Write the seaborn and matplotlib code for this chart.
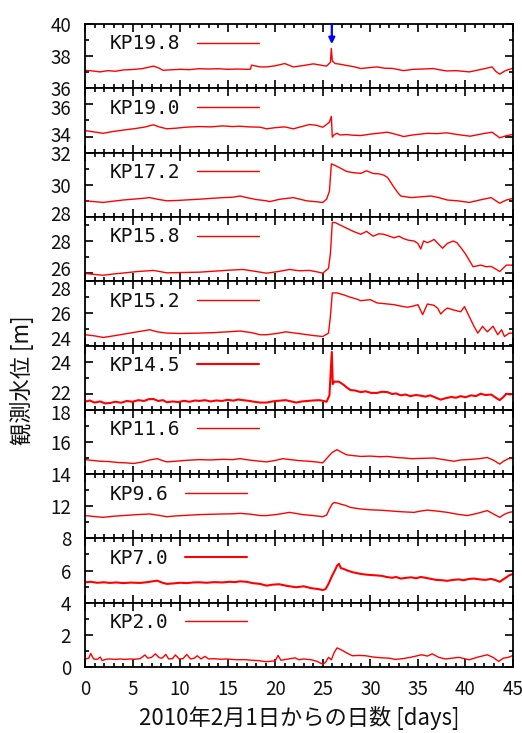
import numpy as np
import pandas as pd
import matplotlib
matplotlib.use("Agg")
import matplotlib.pyplot as plt
from matplotlib.ticker import MultipleLocator, FixedLocator
from matplotlib.transforms import ScaledTranslation
import seaborn as sns

# ---------------- data ----------------
stations = ["KP19.8", "KP19.0", "KP17.2", "KP15.8", "KP15.2",
            "KP14.5", "KP11.6", "KP9.6", "KP7.0", "KP2.0"]

kp19_8 = [(0,37.12),(0.8,37.08),(1.6,37.02),(2.4,37.1),(3.2,37.06),(4,37.14),(5,37.17),(6,37.22),(6.6,37.3),
          (7.2,37.38),(7.8,37.25),(8.2,37.12),(9,37.15),(10,37.18),(11,37.16),(12,37.22),(13,37.2),(14,37.22),
          (15,37.18),(16,37.2),(17,37.18),(17.4,37.19),(17.5,37.44),(18,37.38),(18.4,37.33),(19.1,37.33),
          (20,37.4),(21,37.54),(21.9,37.33),(22.5,37.38),(23,37.42),(24,37.52),(24.7,37.45),(25.4,37.38),
          (25.8,37.62),(25.9,38.48),(26.0,37.7),(26.3,37.54),(26.8,37.5),(27.5,37.42),(28.2,37.35),(29,37.23),
          (29.8,37.28),(30.7,37.33),(31.5,37.25),(32.3,37.24),(33.5,37.1),(34.5,37.18),(35.5,37.2),(36.6,37.23),
          (37.3,37.15),(38,37.08),(39,37.1),(40.4,37.02),(41.2,37.12),(42,37.22),(42.8,37.33),(43.2,37.05),
          (43.6,36.88),(44.2,37.1),(44.9,37.23)]
kp19_0 = [(0,34.37),(0.8,34.3),(1.9,34.2),(2.8,34.3),(4,34.4),(5.1,34.48),(6.2,34.58),(7.2,34.73),(7.8,34.6),
          (8.6,34.48),(9.6,34.52),(10.6,34.58),(12,34.62),(13.2,34.6),(14.5,34.66),(15.5,34.62),(16.3,34.64),
          (17.2,34.6),(18.4,34.58),(19.1,34.48),(20,34.55),(21,34.6),(21.9,34.48),(22.8,34.62),(23.6,34.75),
          (24.3,34.7),(25,34.58),(25.4,34.75),(25.7,34.9),(25.9,35.25),(26.0,33.96),(26.2,34.12),(26.5,34.2),
          (26.8,34.1),(27.5,34.12),(28.2,34.08),(29,34.06),(30,34.15),(30.8,34.2),(31.8,34.27),(32.6,34.15),
          (33.5,34.0),(34.5,34.1),(36,34.2),(37,34.18),(38,34.23),(39.2,34.12),(40.5,34.02),(41.6,34.15),
          (42.8,34.27),(43.6,33.92),(44.3,34.05),(45,34.13)]
kp17_2 = [(0,29.0),(1,28.95),(1.9,28.9),(3,28.98),(4,29.05),(5,29.1),(6,29.15),(6.8,29.2),(7.6,29.1),(8.6,29.0),
          (9.6,29.02),(10.8,29.06),(12,29.1),(13.2,29.15),(14.5,29.2),(15.5,29.22),(16.3,29.3),(17,29.2),
          (18,29.08),(19.1,29.0),(19.4,28.95),(20.5,29.1),(21.9,29.2),(22.6,29.1),(23.3,29.0),(24.2,28.95),
          (25,28.9),(25.4,29.1),(25.7,29.6),(25.9,31.3),(26.3,31.2),(26.8,31.05),(27.5,30.83),(28.2,30.75),
          (29,30.71),(29.6,30.87),(30.3,30.7),(30.9,30.68),(31.4,30.6),(31.8,30.46),(32.2,30.1),(32.5,29.83),
          (32.9,29.5),(33.2,29.3),(34.3,29.2),(35.3,29.25),(36.4,29.3),(37.2,29.2),(38.1,29.05),(39.2,29.0),
          (40.4,28.9),(41.5,29.05),(42.7,29.2),(43.6,28.85),(44.3,29.05),(45,29.15)]
kp15_8 = [(0,25.98),(1,25.92),(1.9,25.87),(3,25.95),(4.2,26.02),(5.5,26.1),(7.2,26.17),(8.6,26.02),(10,26.04),
          (12,26.06),(13.5,26.12),(15,26.18),(16.6,26.23),(17.8,26.12),(19.1,26.0),(20.3,26.1),(21.5,26.23),
          (22.5,26.15),(23.6,26.17),(24.4,26.08),(25,26.0),(25.6,26.3),(25.8,27.2),(26.0,29.15),(26.3,29.15),
          (26.8,29.0),(27.5,28.8),(28.2,28.6),(29,28.42),(29.6,28.6),(30.3,28.3),(30.9,28.45),(31.4,28.42),
          (32,28.3),(32.5,28.2),(33,28.3),(33.5,28.15),(34,28.05),(34.6,28.0),(35.0,27.85),(35.3,27.5),
          (35.6,28.0),(36,27.9),(36.4,28.0),(36.7,28.1),(37.1,27.85),(37.6,27.55),(38.1,27.85),(38.7,28.0),
          (39.1,27.9),(39.5,27.6),(40,27.2),(40.4,26.8),(40.8,26.4),(41.2,26.45),(41.6,26.5),(42.2,26.4),
          (42.7,26.42),(43.2,26.25),(43.6,26.1),(44.3,26.5),(45,26.5)]
kp15_2 = [(0,24.67),(1,24.6),(1.9,24.5),(3,24.6),(4.2,24.72),(5.5,24.85),(6.8,24.98),(7.6,24.85),(8.6,24.77),
          (10,24.75),(12,24.77),(13.5,24.8),(15,24.85),(16.3,24.9),(17.5,24.8),(18.4,24.67),(19.1,24.67),
          (20.2,24.75),(21.1,24.85),(22,24.78),(22.9,24.71),(24,24.62),(25,24.56),(25.6,24.77),(25.8,25.8),
          (26.0,27.27),(26.5,27.27),(27.2,27.15),(27.9,27.0),(28.5,26.9),(29,26.79),(30,26.85),(30.7,26.65),
          (31.5,26.6),(32.5,26.54),(33.2,26.45),(33.9,26.38),(34.5,26.45),(35,26.54),(35.5,25.92),(36,26.58),
          (36.7,26.5),(37.1,26.3),(37.4,25.96),(37.8,26.2),(38.1,26.33),(38.8,26.2),(39.5,26.1),(39.9,26.42),
          (40.4,25.8),(40.9,25.19),(41.3,24.77),(41.8,25.19),(42.3,24.85),(42.9,25.2),(43.4,24.67),(43.8,24.98),
          (44.1,24.56),(44.6,24.77),(45,24.77)]
kp14_5 = [(0,21.5),(0.5,21.58),(1,21.45),(1.6,21.52),(2.1,21.4),(2.6,21.42),(3.2,21.5),(3.8,21.44),(4.4,21.55),
          (5,21.5),(5.6,21.6),(6.2,21.55),(6.7,21.66),(7.2,21.67),(7.7,21.55),(8.2,21.6),(8.6,21.47),(9.2,21.52),
          (9.8,21.48),(10.4,21.56),(11,21.5),(11.6,21.58),(12,21.55),(12.6,21.6),(13.2,21.52),(13.8,21.58),
          (14.4,21.55),(15,21.62),(15.6,21.57),(16.1,21.64),(16.6,21.6),(17.2,21.56),(17.8,21.5),(18.4,21.45),
          (19.1,21.45),(19.7,21.52),(20.3,21.56),(21.1,21.6),(21.7,21.52),(22.2,21.45),(22.8,21.52),(23.4,21.55),
          (24,21.58),(24.6,21.6),(25.1,21.55),(25.4,21.5),(25.7,21.9),(25.95,24.6),(26.05,22.6),(26.2,22.75),
          (26.7,22.75),(27.2,22.55),(27.5,22.4),(27.9,22.23),(28.4,22.2),(29,22.1),(29.5,22.15),(30.1,22.05),
          (30.7,22.05),(31.2,22.12),(31.8,22.1),(32.3,21.98),(32.7,22.02),(33.2,21.9),(33.7,21.95),(34.2,21.85),
          (34.8,21.92),(35.3,21.88),(35.8,21.82),(36.3,21.9),(36.9,21.75),(37.4,21.63),(37.9,21.72),(38.5,21.8),
          (39,21.75),(39.5,21.85),(40,21.78),(40.6,21.9),(41.1,21.85),(41.6,22.0),(42.1,21.92),(42.7,21.95),
          (43.2,21.75),(43.6,21.6),(44,21.8),(44.3,22.0),(44.7,21.95),(45,22.0)]
kp11_6 = [(0,14.9),(0.8,14.85),(1.6,14.8),(2.5,14.78),(3.5,14.72),(4.3,14.7),(5.1,14.66),(6,14.75),(6.8,14.88),
          (7.6,14.96),(8.1,14.85),(8.6,14.76),(9.5,14.8),(10.5,14.85),(12,14.9),(13.2,14.88),(14.5,14.92),
          (15.5,14.9),(16.3,14.96),(17.2,14.88),(18.4,14.8),(19.1,14.76),(20,14.85),(20.8,14.96),(21.6,14.9),
          (22.5,14.84),(23.5,14.8),(24.4,14.75),(25,14.7),(25.6,15.1),(26.0,15.35),(26.5,15.52),(27,15.35),
          (27.5,15.2),(28.2,15.15),(29,15.1),(30,15.12),(31,15.08),(31.8,15.1),(32.8,15.03),(33.6,15.0),
          (34.3,14.96),(35.5,14.98),(36.7,15.0),(37.7,14.9),(38.8,14.8),(39.5,14.88),(40.2,14.9),(41.3,14.95),
          (42.3,15.03),(43,14.85),(43.6,14.62),(44,14.8),(44.5,14.96),(45,15.0)]
kp9_6 = [(0,11.42),(1,11.36),(1.9,11.31),(3,11.38),(4,11.42),(5.5,11.48),(6.8,11.52),(7.6,11.45),(8.6,11.35),
         (9.6,11.4),(10.8,11.44),(12,11.48),(13.2,11.5),(14.5,11.52),(15.5,11.53),(16.3,11.56),(17.5,11.5),
         (18.4,11.42),(19.1,11.42),(20.3,11.5),(21.5,11.62),(22.2,11.55),(22.9,11.48),(24,11.42),(25,11.35),
         (25.4,11.45),(25.7,11.83),(26.0,12.15),(26.2,12.23),(26.5,12.2),(26.9,12.13),(27.4,12.05),(27.9,11.93),
         (28.4,11.88),(29,11.83),(30,11.78),(31.2,11.75),(32.5,11.69),(33.5,11.65),(34.6,11.62),(35.3,11.7),
         (36,11.76),(37,11.7),(38.1,11.62),(39.2,11.5),(40.2,11.42),(41.2,11.55),(42.3,11.73),(43,11.5),
         (43.6,11.31),(44.1,11.5),(44.6,11.62),(45,11.66)]
kp7_0 = [(0,5.27),(0.6,5.3),(1.3,5.24),(2,5.27),(2.6,5.23),(3.3,5.26),(4,5.22),(4.8,5.25),(5.8,5.23),(6.6,5.28),
         (7.1,5.33),(7.6,5.37),(8.1,5.25),(8.6,5.17),(9.3,5.2),(10,5.24),(10.7,5.22),(11.4,5.26),(12,5.27),
         (12.8,5.24),(13.6,5.28),(14.4,5.26),(15.2,5.3),(15.8,5.28),(16.3,5.33),(17,5.3),(17.6,5.22),(18.4,5.17),
         (19.1,5.06),(19.7,5.12),(20.4,5.15),(21.2,5.05),(22.2,4.96),(23,5.02),(23.8,4.9),(24.5,4.85),(25,4.79),
         (25.3,4.85),(25.6,5.17),(26,5.7),(26.3,6.04),(26.5,6.3),(26.7,6.42),(26.9,6.15),(27.2,6.1),(27.6,6.0),
         (28.1,5.9),(28.5,5.85),(29,5.79),(29.5,5.75),(30.1,5.72),(30.6,5.7),(31.2,5.67),(31.7,5.6),(32.3,5.55),
         (32.7,5.6),(33.2,5.5),(33.8,5.55),(34.3,5.58),(34.8,5.52),(35.3,5.6),(35.8,5.55),(36.4,5.48),(36.9,5.42),
         (37.5,5.4),(38.1,5.36),(38.7,5.42),(39.3,5.45),(39.8,5.4),(40.4,5.48),(40.9,5.5),(41.5,5.45),(42.1,5.42),
         (42.7,5.48),(43.2,5.4),(43.6,5.3),(44.1,5.5),(44.6,5.7),(45,5.79)]
kp2_0 = [(0,0.5),(0.4,0.55),(0.6,0.84),(0.9,0.5),(1.3,0.48),(1.6,0.62),(1.8,0.4),(2.2,0.48),(2.6,0.5),(3.2,0.47),
         (3.7,0.5),(4.2,0.47),(4.7,0.5),(5.2,0.48),(5.8,0.52),(6.3,0.75),(6.6,0.55),(7.0,0.6),(7.4,0.82),
         (7.8,0.58),(8.1,0.55),(8.5,0.78),(8.8,0.5),(9.2,0.52),(9.5,0.75),(9.9,0.5),(10.3,0.52),(10.7,0.78),
         (11.1,0.5),(11.5,0.55),(11.8,0.7),(12.2,0.5),(12.6,0.66),(13,0.5),(13.6,0.52),(14.2,0.48),(14.8,0.5),
         (15.5,0.47),(16,0.45),(16.8,0.46),(17.5,0.42),(18.2,0.4),(19,0.33),(19.6,0.36),(20,0.38),(20.3,0.72),
         (20.6,0.42),(21.2,0.48),(22.1,0.57),(22.5,0.45),(23,0.5),(23.8,0.45),(24.4,0.35),(25,0.17),(25.3,0.3),
         (25.6,0.6),(25.9,0.45),(26.2,0.9),(26.5,1.19),(27,1.05),(27.5,0.88),(28.1,0.7),(28.8,0.72),(29.5,0.7),
         (30.3,0.62),(31.2,0.57),(32,0.55),(32.6,0.47),(33.4,0.52),(34.2,0.6),(34.8,0.68),(35.4,0.76),(36,0.68),
         (36.5,0.82),(37.2,0.6),(37.9,0.5),(38.6,0.55),(39.3,0.6),(39.9,0.52),(40.4,0.45),(41.2,0.6),
         (42.3,0.76),(42.9,0.6),(43.5,0.35),(44,0.55),(44.5,0.6),(45,0.72)]

series = [kp19_8, kp19_0, kp17_2, kp15_8, kp15_2, kp14_5, kp11_6, kp9_6, kp7_0, kp2_0]

# y-ranges and labelled ticks per panel
y_ranges = [(36, 40), (33, 37), (28, 32), (25.5, 29.5), (24, 28),
            (21, 25), (14, 18), (10, 14), (4, 8), (0, 4)]
y_major = [[36, 38, 40], [34, 36], [28, 30, 32], [26, 28], [24, 26, 28],
           [22, 24], [14, 16, 18], [12], [4, 6, 8], [0, 2]]

x_ticks = [0, 5, 10, 15, 20, 25, 30, 35, 40, 45]

arrow_day = 25.95
arrow_from = 40.0
arrow_to = 38.75

xlabel = "2010年2月1日からの日数 [days]"
ylabel = "観測水位 [m]"

# small vertical nudges (pixels, + = up) of crowded tick labels, as in the reference
label_nudge = {(1, 36): -3, (1, 34): 3, (2, 28): 4, (3, 26): 5, (4, 28): -7, (4, 24): 7,
               (5, 22): 2, (6, 18): -2}

# ---------------- build frame ----------------
rows = []
for name, s in zip(stations, series):
    for d, v in s:
        rows.append((name, d, v))
df = pd.DataFrame(rows, columns=["station", "day", "level"])

# ---------------- style ----------------
sns.set_style("white")
plt.rcParams["font.family"] = ["Noto Sans CJK JP", "DejaVu Sans"]
plt.rcParams["axes.linewidth"] = 1.3

W, H = 522, 733
fig = plt.figure(figsize=(W / 100, H / 100), dpi=100)
gs = fig.add_gridspec(10, 1, left=85 / W, right=513 / W, top=1 - 24 / H,
                      bottom=1 - 667 / H, hspace=0)

axes = []
for i, name in enumerate(stations):
    ax = fig.add_subplot(gs[i, 0], sharex=axes[0] if axes else None)
    axes.append(ax)
    sub = df[df["station"] == name]
    lw = 1.5 if name in ("KP14.5", "KP7.0") else 1.0
    sns.lineplot(data=sub, x="day", y="level", ax=ax, color="#ff0000",
                 linewidth=lw, label=name, legend=False, estimator=None)
    ax.set_xlim(0, 45)
    ax.set_ylim(*y_ranges[i])
    ax.yaxis.set_major_locator(FixedLocator(y_major[i]))
    ax.yaxis.set_minor_locator(MultipleLocator(1))
    ax.xaxis.set_major_locator(FixedLocator(x_ticks))
    ax.xaxis.set_minor_locator(MultipleLocator(1))
    ax.tick_params(which="both", direction="in", top=True, right=True,
                   bottom=True, left=True, width=1.2, color="black",
                   labelsize=13.5, labelcolor="#111111")
    ax.tick_params(which="major", length=6)
    ax.tick_params(which="minor", length=3)
    ax.tick_params(axis="y", pad=10)
    ax.tick_params(axis="x", pad=9)
    ax.set_xlabel("")
    ax.set_ylabel("")
    for sp in ax.spines.values():
        sp.set_color("black")
        sp.set_linewidth(1.3)
    if i < len(stations) - 1:
        ax.tick_params(axis="x", labelbottom=False)
    h, l = ax.get_legend_handles_labels()
    leg = ax.legend(h, l, loc="center left", bbox_to_anchor=(0.058, 0.69),
                    frameon=False, markerfirst=False, handlelength=3.2,
                    handletextpad=0.85, borderpad=0, borderaxespad=0,
                    prop={"family": "DejaVu Sans Mono", "size": 14})
    for t in leg.get_texts():
        t.set_color("#111111")

axes[0].annotate("", xy=(arrow_day, arrow_to), xytext=(arrow_day, arrow_from),
                 arrowprops=dict(arrowstyle="-|>", color="blue", lw=1.6,
                                 mutation_scale=9, shrinkA=0, shrinkB=0))

fig.text(299 / W, 1 - 718 / H, xlabel, ha="center", va="center",
         fontsize=16, color="#111111")
fig.text(22 / W, 1 - 380 / H, ylabel, ha="center", va="center",
         rotation=90, fontsize=16, color="#111111")

fig.canvas.draw()
for (i, v), dy in label_nudge.items():
    for tick in axes[i].yaxis.get_major_ticks():
        if abs(tick.get_loc() - v) < 1e-6:
            tick.label1.set_transform(tick.label1.get_transform() +
                                      ScaledTranslation(0, dy / 100, fig.dpi_scale_trans))

fig.savefig("out.png", dpi=100)
